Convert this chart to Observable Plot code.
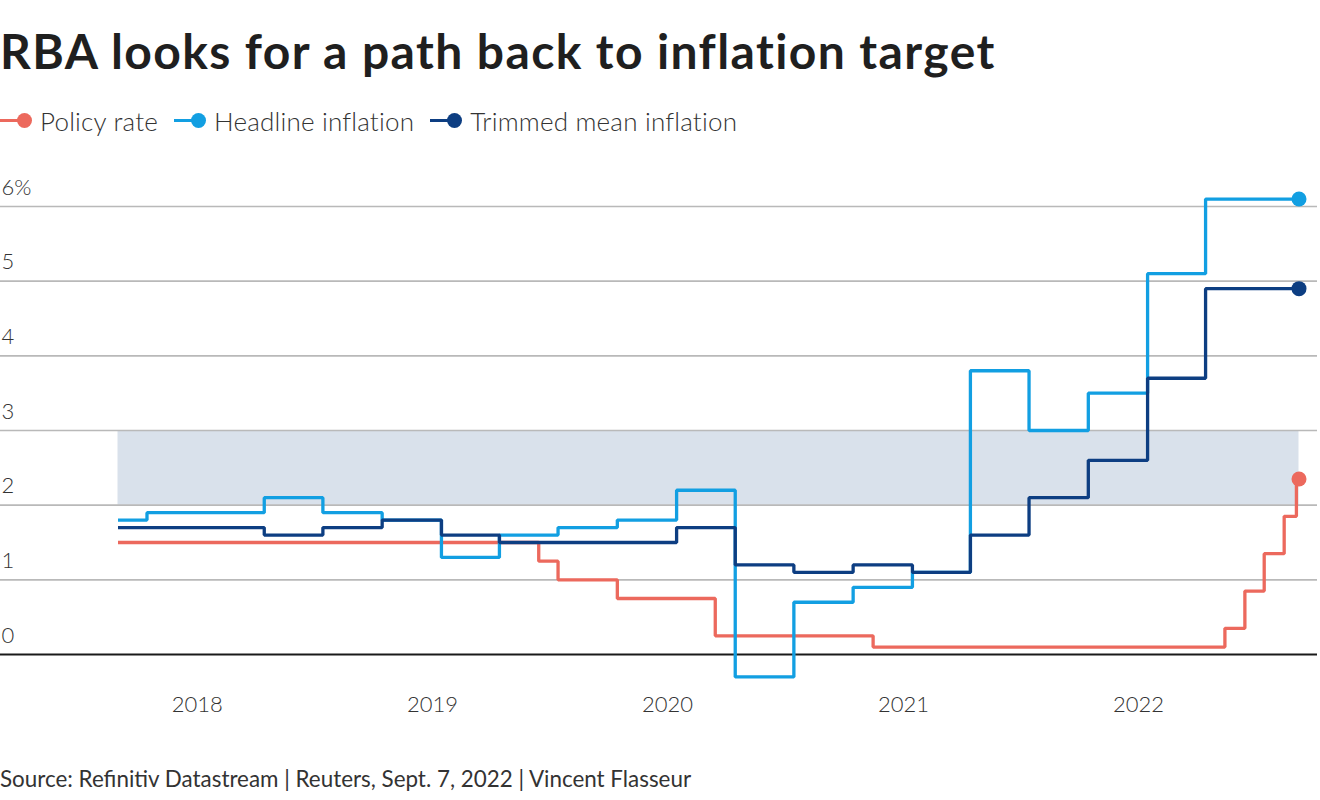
<!DOCTYPE html>
<html>
<head>
<meta charset="utf-8">
<script src="https://cdn.jsdelivr.net/npm/d3@7"></script>
<script src="https://cdn.jsdelivr.net/npm/@observablehq/plot@0.6"></script>
<style>
  html, body { margin: 0; padding: 0; background: #fff; }
  body { width: 1320px; height: 800px; overflow: hidden; font-family: Lato, "Noto Sans", sans-serif; position: relative; }
  #title { position: absolute; left: 0; top: 22px; font-size: 48px; font-weight: 700; color: #1f1f1f; white-space: nowrap; letter-spacing: 1.4px; }
  #legend { position: absolute; left: 0; top: 104px; display: flex; align-items: center; font-size: 26px; font-weight: 300; color: #333; white-space: nowrap; letter-spacing: 0.2px; }
  .item { display: flex; align-items: center; margin-right: 16px; }
  .sw { position: relative; width: 34px; height: 34px; margin-right: 6px; }
  .sw .ln { position: absolute; left: 0; top: 15px; width: 26px; height: 3px; }
  .sw .dt { position: absolute; left: 17px; top: 9px; width: 15px; height: 15px; border-radius: 50%; }
  #chart { position: absolute; left: 0; top: 160px; }
  #source { position: absolute; left: 0; top: 765px; font-size: 22.4px; color: #333; white-space: nowrap; }
</style>
</head>
<body>
<div id="title">RBA looks for a path back to inflation target</div>
<div id="legend"></div>
<div id="chart"></div>
<div id="source">Source: Refinitiv Datastream | Reuters, Sept. 7, 2022 | Vincent Flasseur</div>
<script>
// ---- data ----
const seriesNames = ["Policy rate", "Headline inflation", "Trimmed mean inflation"];
const seriesColors = ["#ec695d", "#129fe2", "#0d3e82"];

const startDate = "2017-08-31";
const endDate = "2022-09-07";

// quarterly CPI step dates (value takes effect from this date)
const cpiDates = ["2017-08-31","2017-10-15","2018-01-15","2018-04-15","2018-07-15","2018-10-15",
  "2019-01-15","2019-04-15","2019-07-15","2019-10-15","2020-01-15","2020-04-15","2020-07-15",
  "2020-10-15","2021-01-15","2021-04-15","2021-07-15","2021-10-15","2022-01-15","2022-04-15","2022-09-07"];
const headline = [1.8,1.9,1.9,2.1,1.9,1.8,1.3,1.6,1.7,1.8,2.2,-0.3,0.7,0.9,1.1,3.8,3.0,3.5,5.1,6.1,6.1];
const trimmed  = [1.7,1.7,1.7,1.6,1.7,1.8,1.6,1.5,1.5,1.5,1.7,1.2,1.1,1.2,1.1,1.6,2.1,2.6,3.7,4.9,4.9];

// policy rate step dates
const rateDates = ["2017-08-31","2019-06-15","2019-07-15","2019-10-15","2020-03-15","2020-11-15",
  "2022-05-15","2022-06-15","2022-07-15","2022-08-15","2022-09-03","2022-09-07"];
const policyRate = [1.5,1.25,1.0,0.75,0.25,0.1,0.35,0.85,1.35,1.85,2.35,2.35];

const targetBand = [2, 3];
const yTicks = [0, 1, 2, 3, 4, 5, 6];
const xTickYears = ["2018-01-01","2019-01-01","2020-01-01","2021-01-01","2022-01-01"];

// ---- build ----
const parse = d3.utcParse("%Y-%m-%d");
const rows = [];
rateDates.forEach((d, i) => rows.push({date: parse(d), value: policyRate[i], series: seriesNames[0]}));
cpiDates.forEach((d, i) => rows.push({date: parse(d), value: headline[i], series: seriesNames[1]}));
cpiDates.forEach((d, i) => rows.push({date: parse(d), value: trimmed[i], series: seriesNames[2]}));
const lastPts = seriesNames.map(s => rows.filter(r => r.series === s).slice(-1)[0]);

const xStart = parse(startDate), xEnd = parse(endDate);

const chart = Plot.plot({
  width: 1320,
  height: 580,
  marginLeft: 0,
  marginRight: 3,
  marginTop: 0,
  marginBottom: 50,
  style: {fontFamily: "Lato, 'Noto Sans', sans-serif", background: "transparent", overflow: "visible"},
  x: {type: "utc", domain: [xStart, xEnd], range: [117.5, 1298.5]},
  y: {domain: [0, 6], range: [494, 46]},
  color: {domain: seriesNames, range: seriesColors},
  marks: [
    Plot.rect([targetBand], {x1: () => xStart, x2: () => xEnd, y1: d => d[0], y2: d => d[1], fill: "#d9e1eb"}),
    Plot.ruleY(yTicks.filter(t => t !== 0), {stroke: "#b9b9b9", strokeWidth: 1.6}),
    Plot.ruleY([0], {stroke: "#1a1a1a", strokeWidth: 2.2}),
    Plot.axisY({ticks: yTicks, tickSize: 0, tickPadding: 0, textAnchor: "start", dx: 1, dy: -19,
      fontSize: 22, fontWeight: 300, fill: "#333", tickFormat: d => d === 6 ? "6%" : String(d), label: null}),
    Plot.axisX({ticks: xTickYears.map(parse), tickSize: 0, tickPadding: 6, fontSize: 22, fontWeight: 300,
      fill: "#333", tickFormat: d3.utcFormat("%Y"), label: null}),
    Plot.line(rows, {x: "date", y: "value", z: "series", stroke: "series", strokeWidth: 3.3, curve: "step-after", strokeLinejoin: "miter", strokeLinecap: "butt"}),
    Plot.dot(lastPts, {x: "date", y: "value", fill: "series", r: 7.5})
  ]
});
document.getElementById("chart").appendChild(chart);

// legend
const leg = document.getElementById("legend");
seriesNames.forEach((n, i) => {
  const it = document.createElement("div"); it.className = "item";
  it.innerHTML = `<div class="sw"><div class="ln" style="background:${seriesColors[i]}"></div><div class="dt" style="background:${seriesColors[i]}"></div></div><span>${n}</span>`;
  leg.appendChild(it);
});
</script>
</body>
</html>
